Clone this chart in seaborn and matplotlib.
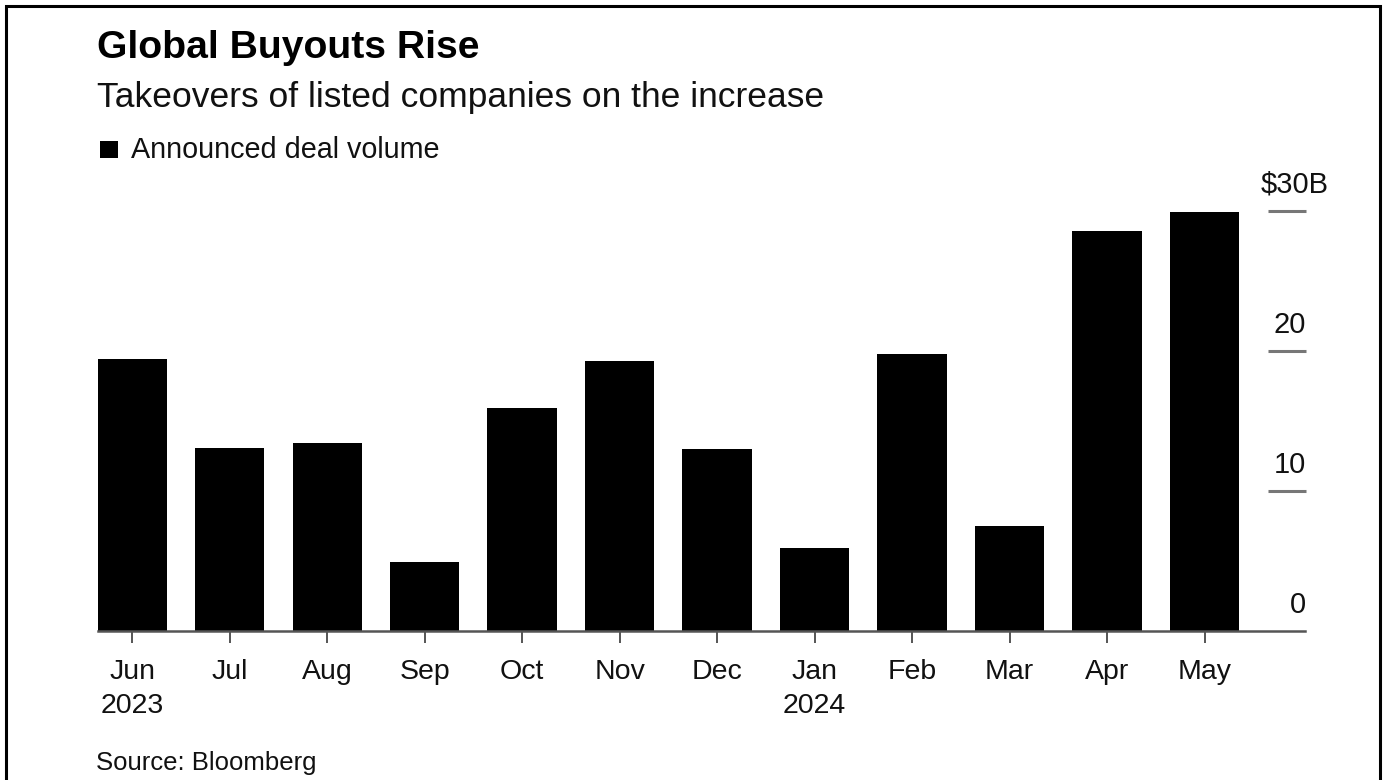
import matplotlib
matplotlib.use("Agg")
import matplotlib.pyplot as plt
from matplotlib.patches import Rectangle
import seaborn as sns
import pandas as pd

# Monthly announced deal volume, $ billions
months = ["Jun", "Jul", "Aug", "Sep", "Oct", "Nov", "Dec", "Jan", "Feb", "Mar", "Apr", "May"]
years = {"Jun": "2023", "Jan": "2024"}
volume = [19.4, 13.1, 13.4, 4.9, 15.9, 19.3, 13.0, 5.9, 19.8, 7.5, 28.6, 29.9]
y_ticks = [0, 10, 20, 30]
y_tick_labels = ["0", "10", "20", "$30B"]

sns.set_theme(style="white")
plt.rcParams["font.family"] = ["Liberation Sans", "DejaVu Sans"]

df = pd.DataFrame({"month": months, "volume": volume})

W, H = 1383, 780
fig = plt.figure(figsize=(W / 100, H / 100), dpi=100)
fig.patch.set_facecolor("white")

ax = fig.add_axes([98 / W, 1 - 631 / H, (1305 - 98) / W, (631 - 211) / H])
sns.barplot(data=df, x="month", y="volume", color="black", width=0.71,
            saturation=1, edgecolor="black", linewidth=0, ax=ax)

ax.set_xlim(-0.35, 12.03)
ax.set_ylim(0, 30)
ax.set_xlabel("")
ax.set_ylabel("")
for side in ["top", "right", "left"]:
    ax.spines[side].set_visible(False)
ax.spines["bottom"].set_color("#555555")
ax.spines["bottom"].set_linewidth(1.8)

# x ticks with year under first month of each year
ax.set_xticks(range(len(months)))
ax.set_xticklabels([m + ("\n" + years[m] if m in years else "") for m in months],
                   fontsize=20.5, color="#111111", linespacing=1.38)
ax.tick_params(axis="x", bottom=True, length=8.5, width=1.4, color="#555555", pad=12)
ax.set_yticks([])

# right-hand value scale: short gray rules with labels sitting above them
gx0, gx1 = 11.65, 12.04
for v, lab in zip(y_ticks, y_tick_labels):
    if v > 0:
        ax.plot([gx0, gx1], [v, v], color="#777777", lw=2.2, solid_capstyle="butt",
                clip_on=False)
    if lab.startswith("$"):
        ax.annotate(lab, xy=(11.92, v), xytext=(0, 13), textcoords="offset points",
                    ha="center", va="baseline", fontsize=21, color="#111111",
                    annotation_clip=False)
    else:
        ax.annotate(lab, xy=(12.04, v), xytext=(0, 13), textcoords="offset points",
                    ha="right", va="baseline", fontsize=21, color="#111111",
                    annotation_clip=False)

# headings
fig.text(97 / W, 1 - 58 / H, "Global Buyouts Rise", fontsize=28.2, fontweight="bold",
         color="black", va="baseline", ha="left")
fig.text(97 / W, 1 - 107 / H, "Takeovers of listed companies on the increase",
         fontsize=25.5, color="#111111", va="baseline", ha="left")

# legend key
fig.patches.append(Rectangle((100 / W, 1 - 158 / H), 18 / W, 17 / H,
                             transform=fig.transFigure, facecolor="black",
                             edgecolor="none"))
fig.text(131 / W, 1 - 158 / H, "Announced deal volume", fontsize=20.7,
         color="#111111", va="baseline", ha="left")

fig.text(96 / W, 1 - 770 / H, "Source: Bloomberg", fontsize=18.5,
         color="#111111", va="baseline", ha="left")

# outer frame
fig.patches.append(Rectangle((6 / W, -0.05), (1380 - 6) / W, 1.05 - 6 / H,
                             transform=fig.transFigure, fill=False,
                             edgecolor="black", linewidth=2.2))

fig.savefig("out.png", dpi=100, facecolor="white")
